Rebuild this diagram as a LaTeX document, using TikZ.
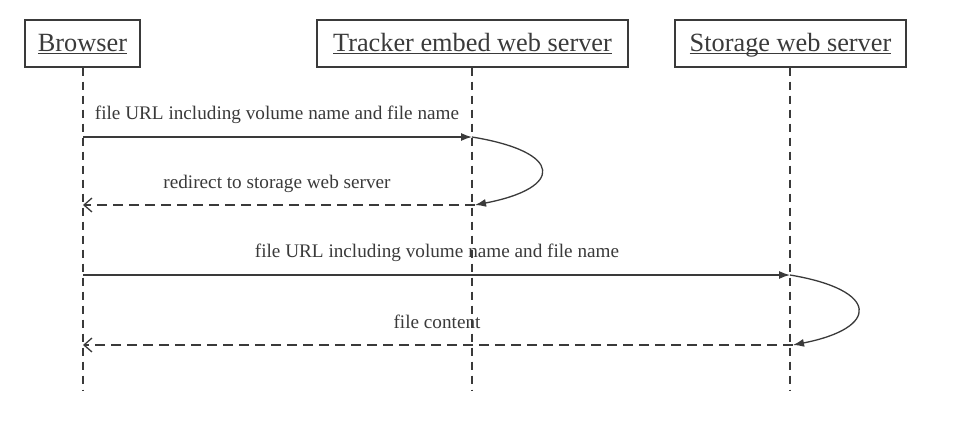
\documentclass[tikz,border=0pt]{standalone}
\usepackage{fontspec}
\setmainfont{Liberation Serif}
\usetikzlibrary{arrows.meta}
\definecolor{ink}{HTML}{3A3A3A}
\newcommand\ulname[1]{\underline{\smash{#1}}}
\tikzset{
  actor/.style={draw=ink, line width=1.4pt, minimum height=47pt, inner sep=0pt, text=ink, text height=20pt, text depth=4pt, font=\fontsize{26.3}{30}\selectfont},
  life/.style={draw=ink, line width=1.2pt, dash pattern=on 8pt off 6pt},
  msg/.style={draw=ink, line width=1.3pt, -{Latex[length=11pt,width=8pt]}},
  ret/.style={draw=ink, line width=1.3pt, dash pattern=on 10pt off 6pt, -{Straight Barb[length=8pt,width=14pt]}},
  loop/.style={draw=ink, line width=1.3pt, -{Latex[length=11pt,width=8pt]}},
  lbl/.style={text=ink, inner sep=0pt, font=\fontsize{19.2}{22}\selectfont}
}
\begin{document}
\begin{tikzpicture}[x=1pt,y=-1pt]
\useasboundingbox (0,0) rectangle (964,421);
% actors
\node[actor, minimum width=115pt] (br) at (82.5,43.5) {\ulname{Browser}};
\node[actor, minimum width=311pt] (tr) at (472.5,43.5) {\ulname{Tracker embed web server}};
\node[actor, minimum width=231pt] (st) at (790.5,43.5) {\ulname{Storage web server}};
% lifeline ends
\coordinate (brEnd) at (83,390);
\coordinate (trEnd) at (472,390);
\coordinate (stEnd) at (790,390);
\draw[life] (br.south -| brEnd) -- (brEnd);
\draw[life] (tr.south -| trEnd) -- (trEnd);
\draw[life] (st.south -| stEnd) -- (stEnd);
% message points
\coordinate (b1) at (83,137);
\coordinate (t1) at (472,137);
\coordinate (t2) at (475,205);
\coordinate (b2) at (83,205);
\coordinate (b3) at (83,275);
\coordinate (s3) at (790,275);
\coordinate (s4) at (793,345);
\coordinate (b4) at (83,345);
% messages
\draw[msg] (b1) -- (t1);
\node[lbl] (l1) at (277,115) {file URL including volume name and file name};
\draw[loop] (t1) .. controls (564,152) and (564,188) .. (t2);
\draw[ret] (t2) -- (b2);
\node[lbl] (l2) at (277,184) {redirect to storage web server};
\draw[msg] (b3) -- (s3);
\node[lbl] (l3) at (437,253) {file URL including volume name and file name};
\draw[loop] (s3) .. controls (880,290) and (880,328) .. (s4);
\draw[ret] (s4) -- (b4);
\node[lbl] (l4) at (437,322) {file content};
\end{tikzpicture}
\end{document}
